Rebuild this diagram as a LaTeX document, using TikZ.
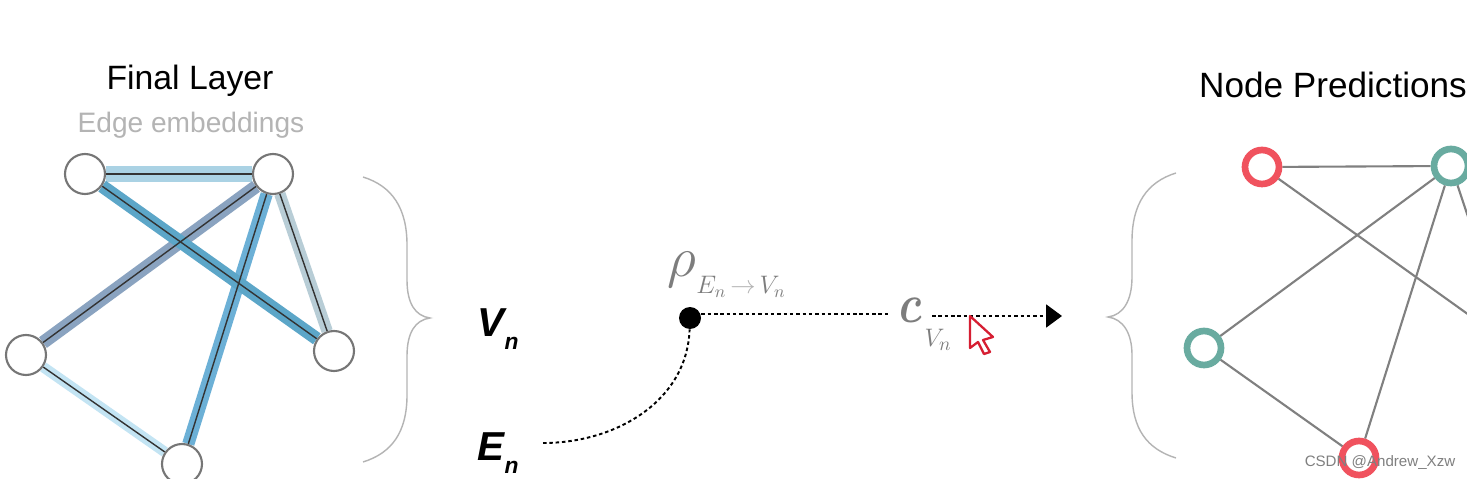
\documentclass[tikz,border=0pt]{standalone}
\usepackage{xcolor}
\usepackage{amsmath}
\usepackage{fontspec}
\setmainfont{Liberation Sans}
\usetikzlibrary{arrows.meta,positioning,backgrounds,calc}
\definecolor{bandab}{RGB}{170,210,228}
\definecolor{bandac}{RGB}{92,166,200}
\definecolor{bandbd}{RGB}{138,163,192}
\definecolor{bandbe}{RGB}{108,176,214}
\definecolor{bandbc}{RGB}{184,205,214}
\definecolor{bandde}{RGB}{195,228,243}
\definecolor{softred}{RGB}{240,82,94}
\definecolor{softgreen}{RGB}{105,171,160}
\definecolor{ringgray}{RGB}{118,118,118}
\definecolor{linkgray}{RGB}{128,128,128}
\definecolor{bracegray}{RGB}{180,180,180}
\definecolor{symgray}{RGB}{125,125,125}
\definecolor{cursorred}{RGB}{214,30,50}
\tikzset{
  plain/.style ={circle, draw=ringgray, fill=white, line width=1.2pt, minimum size=0.8cm, inner sep=0pt},
  rednode/.style={circle, draw=softred, fill=white, line width=3.8pt, minimum size=0.68cm, inner sep=0pt},
  grnnode/.style={circle, draw=softgreen, fill=white, line width=3.8pt, minimum size=0.68cm, inner sep=0pt},
  core/.style  ={draw=black!80, line width=0.8pt},
  link/.style  ={draw=linkgray, line width=1.2pt},
  dots/.style  ={draw=black, line width=1.1pt, dash pattern=on 2pt off 1.6pt},
  curly/.style ={draw=bracegray, line width=0.8pt},
  title/.style ={font=\fontsize{19.2}{23}\selectfont, text=black, inner sep=0pt},
  sym/.style   ={font=\fontsize{23}{26}\selectfont\bfseries\itshape, text=black, inner sep=0pt}
}
\begin{document}
\begin{tikzpicture}[x=0.02cm, y=-0.02cm]
  \clip (0,0) rectangle (1467,479);

  \node[title] (ttl) at (190,81) {Final Layer};
  \node[title, font=\fontsize{16}{20}\selectfont, text=bracegray] (sub) at (191,125) {Edge embeddings};
  \node[title, font=\fontsize{20}{24}\selectfont] (pred) at (1333,85) {Node Predictions};

  \node[plain] (a) at (85,174) {};
  \node[plain] (b) at (273,174) {};
  \node[plain] (c) at (334,351) {};
  \node[plain] (d) at (26,355) {};
  \node[plain] (e) at (182,464) {};

  \begin{scope}[on background layer]
    \fill[white] (0,0) rectangle (1467,479);
    \draw[bandab, line width=9pt] (a) -- (b);
    \draw[bandde, line width=6pt] (d) -- (e);
    \draw[bandbc, line width=6.5pt] (b) -- (c);
    \draw[bandbd, line width=7.5pt] (b) -- (d);
    \draw[bandbe, line width=7pt] (b) -- (e);
    \draw[bandac, line width=7.5pt] (a) -- (c);
    \draw[core] (a) -- (b);
    \draw[core] (d) -- (e);
    \draw[core] (b) -- (c);
    \draw[core] (b) -- (d);
    \draw[core] (b) -- (e);
    \draw[core] (a) -- (c);
  \end{scope}

  \draw[curly] (363,177) .. controls (392,186) and (407,208) .. (407,245)
    -- (407,280) .. controls (407,303) and (415,316) .. (430,318)
    .. controls (415,320) and (407,333) .. (407,356)
    -- (407,395) .. controls (407,432) and (392,453) .. (363,462);
  \draw[curly] (1176,173) .. controls (1147,182) and (1132,204) .. (1132,241)
    -- (1132,277) .. controls (1132,301) and (1123,315) .. (1108,317)
    .. controls (1123,319) and (1132,333) .. (1132,355)
    -- (1132,392) .. controls (1132,429) and (1147,449) .. (1176,458);

  \node[sym] (vn) at (498,329) {V\raisebox{-0.6ex}{\fontsize{13}{14}\selectfont n}};
  \node[sym] (en) at (498,453) {E\raisebox{-0.6ex}{\fontsize{13}{14}\selectfont n}};

  \node[circle, fill=black, minimum size=0.44cm, inner sep=0pt] (dot) at (690,318) {};
  \node[text=symgray, inner sep=0pt, font=\fontsize{24.88}{26}\selectfont] (rho) at (682,270) {\scalebox{1.3}{$\rho$}};
  \node[text=symgray, inner sep=0pt, font=\fontsize{14}{16}\selectfont] (rhosub) at (741,287)
    {$E_n$\,{\color{bracegray}$\rightarrow$}\,$V_n$};
  \node[text=symgray, inner sep=0pt, font=\fontsize{24.88}{26}\selectfont] (cls) at (911,310) {\scalebox{1}[1.25]{$\boldsymbol{c}$}};
  \node[text=symgray, inner sep=0pt, font=\fontsize{15}{17}\selectfont] (clssub) at (938,340) {$V_n$};
  \coordinate (enend) at (543,443);
  \coordinate (cin) at (888,314);
  \coordinate (cout) at (932,316);
  \coordinate (arrowend) at (1062,316);

  \draw[dots] (dot.east |- cin) -- (cin);
  \draw[dots] (enend) to[out=0, in=-92] (dot);
  \draw[dots, -{Triangle[length=9pt, width=13pt]}] (cout) -- (arrowend);

  \draw[cursorred, line width=1.3pt, fill=white, line join=round] (970,316) -- (970,348) -- (978,342)
    -- (984,354) -- (990,352) -- (983,340) -- (993,337) -- cycle;

  \node[rednode] (r1) at (1262,167) {};
  \node[grnnode] (g1) at (1451,166) {};
  \node[grnnode] (g2) at (1204,348) {};
  \node[rednode] (r2) at (1359,458) {};
  \coordinate (g3) at (1511,345);

  \begin{scope}[on background layer]
    \draw[link] (r1) -- (g1);
    \draw[link] (r1) -- (g3);
    \draw[link] (g1) -- (g2);
    \draw[link] (g1) -- (r2);
    \draw[link] (g1) -- (g3);
    \draw[link] (g2) -- (r2);
  \end{scope}

  \node[text=black!50, inner sep=0pt, font=\fontsize{8.6}{11}\selectfont] (mark) at (1380,463) {CSDN @Andrew\_Xzw};
\end{tikzpicture}
\end{document}
